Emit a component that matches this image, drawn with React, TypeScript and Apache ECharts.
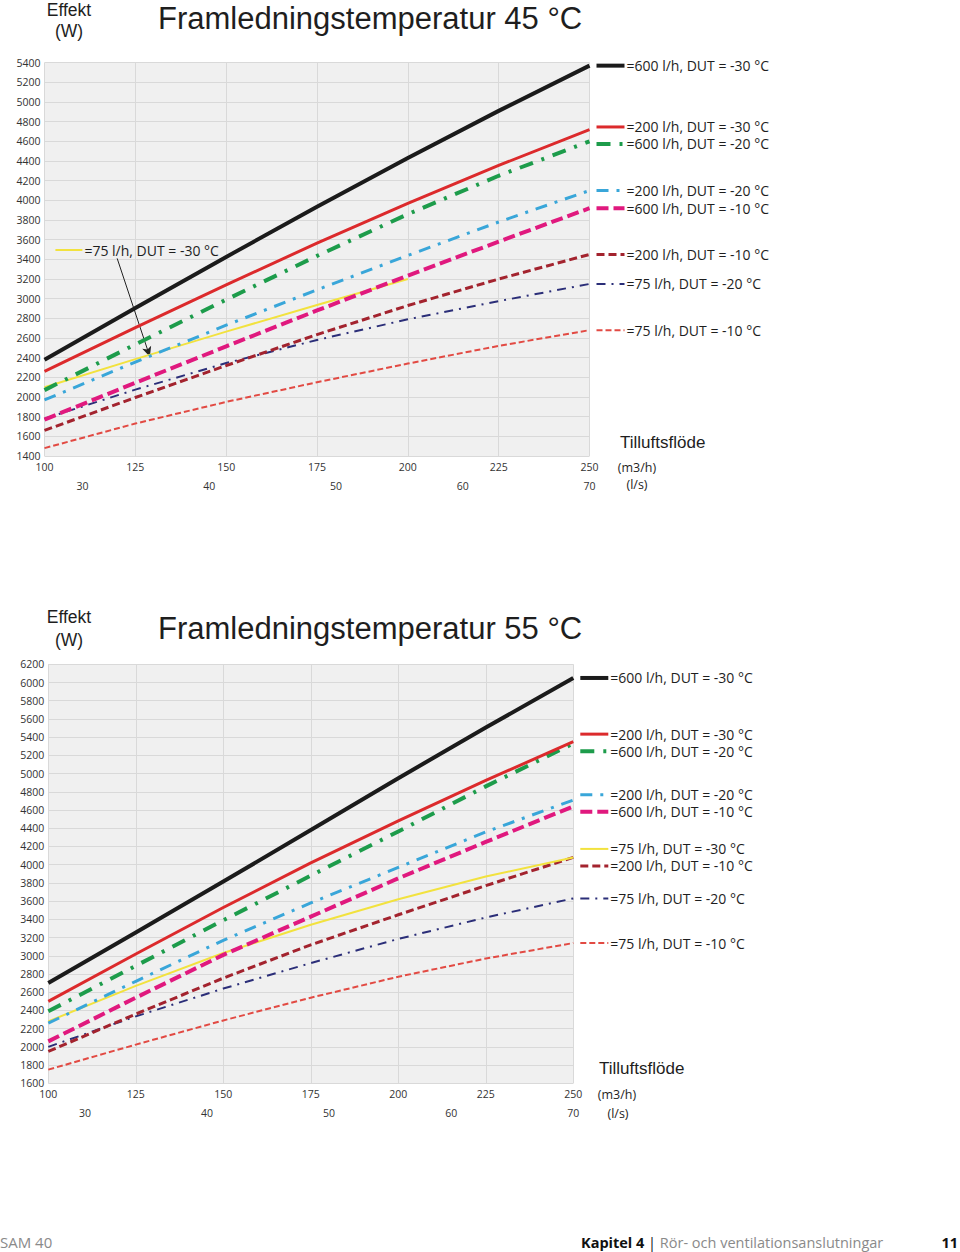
import React, { useEffect, useRef } from "react";
import * as echarts from "echarts";

// ---------------- data ----------------
const FLOW_M3H = [100, 125, 150, 175, 200, 225, 250];
const FLOW_LS_LABELS = [30, 40, 50, 60, 70];
const LS_AXIS_MIN = 27;
const LS_AXIS_MAX = 70;

// Framledningstemperatur 45 °C (W)
const T45_600_M30 = [2380, 2905, 3425, 3935, 4430, 4910, 5370];
const T45_200_M30 = [2260, 2705, 3140, 3565, 3970, 4355, 4720];
const T45_600_M20 = [2070, 2535, 2990, 3435, 3860, 4250, 4600];
const T45_200_M20 = [1970, 2355, 2730, 3090, 3440, 3780, 4100];
const T45_600_M10 = [1770, 2145, 2515, 2880, 3235, 3580, 3920];
const T45_75_M30 = [2100, 2385, 2665, 2935, 3200];
const T45_200_M10 = [1660, 1995, 2320, 2635, 2930, 3200, 3450];
const T45_75_M20 = [1780, 2075, 2345, 2580, 2790, 2975, 3150];
const T45_75_M10 = [1480, 1730, 1950, 2150, 2340, 2520, 2680];

// Framledningstemperatur 55 °C (W)
const T55_600_M30 = [2700, 3255, 3815, 4380, 4950, 5505, 6050];
const T55_200_M30 = [2500, 3020, 3530, 4020, 4480, 4925, 5350];
const T55_600_M20 = [2390, 2890, 3390, 3880, 4365, 4860, 5330];
const T55_200_M20 = [2260, 2720, 3170, 3580, 3970, 4360, 4710];
const T55_600_M10 = [2060, 2540, 3010, 3430, 3850, 4250, 4640];
const T55_75_M30 = [2280, 2670, 3030, 3340, 3620, 3870, 4080];
const T55_200_M10 = [1950, 2360, 2755, 3120, 3450, 3770, 4080];
const T55_75_M20 = [2000, 2335, 2640, 2920, 3185, 3420, 3630];
const T55_75_M10 = [1750, 2025, 2290, 2540, 2770, 2970, 3140];

// annotation of the 75 l/h, -30 °C curve in the 45 °C chart (data coords)
const NOTE45_LABEL_AT = [103, 3495];
const NOTE45_ARROW_FROM = [120, 3410];
const NOTE45_ARROW_TO = [129, 2410];

const LBL = {
  k600m30: "=600 l/h, DUT = -30 °C",
  r200m30: "=200 l/h, DUT = -30 °C",
  g600m20: "=600 l/h, DUT = -20 °C",
  c200m20: "=200 l/h, DUT = -20 °C",
  m600m10: "=600 l/h, DUT = -10 °C",
  y75m30: "=75 l/h, DUT = -30 °C",
  d200m10: "=200 l/h, DUT = -10 °C",
  n75m20: "=75 l/h, DUT = -20 °C",
  l75m10: "=75 l/h, DUT = -10 °C",
};

// ---------------- styles ----------------
const STYLE: Record<string, { color: string; width: number; dash: number[] | null; z: number }> = {
  k600m30: { color: "#1b1b1b", width: 4, dash: null, z: 19 },
  r200m30: { color: "#dc2a2c", width: 3, dash: null, z: 18 },
  g600m20: { color: "#1d9c4b", width: 4, dash: [14, 9, 3, 9], z: 17 },
  c200m20: { color: "#39a6d9", width: 3, dash: [12, 8, 3, 8], z: 16 },
  m600m10: { color: "#e0197e", width: 4, dash: [12, 5], z: 15 },
  y75m30: { color: "#f2e23e", width: 2, dash: null, z: 14 },
  d200m10: { color: "#a3232e", width: 3, dash: [8, 4], z: 13 },
  n75m20: { color: "#2b2e78", width: 2, dash: [9, 6, 2, 6], z: 12 },
  l75m10: { color: "#e24a43", width: 2, dash: [6, 3], z: 11 },
};

type Entry = { key: string; values: number[]; legend: boolean };

const CHART45: Entry[] = [
  { key: "k600m30", values: T45_600_M30, legend: true },
  { key: "r200m30", values: T45_200_M30, legend: true },
  { key: "g600m20", values: T45_600_M20, legend: true },
  { key: "c200m20", values: T45_200_M20, legend: true },
  { key: "m600m10", values: T45_600_M10, legend: true },
  { key: "y75m30", values: T45_75_M30, legend: false },
  { key: "d200m10", values: T45_200_M10, legend: true },
  { key: "n75m20", values: T45_75_M20, legend: true },
  { key: "l75m10", values: T45_75_M10, legend: true },
];

const CHART55: Entry[] = [
  { key: "k600m30", values: T55_600_M30, legend: true },
  { key: "r200m30", values: T55_200_M30, legend: true },
  { key: "g600m20", values: T55_600_M20, legend: true },
  { key: "c200m20", values: T55_200_M20, legend: true },
  { key: "m600m10", values: T55_600_M10, legend: true },
  { key: "y75m30", values: T55_75_M30, legend: true },
  { key: "d200m10", values: T55_200_M10, legend: true },
  { key: "n75m20", values: T55_75_M20, legend: true },
  { key: "l75m10", values: T55_75_M10, legend: true },
];

const SANS = '"Open Sans", "Noto Sans", sans-serif';
const ARIAL = '"Liberation Sans", Arial, sans-serif';
const TXT = "#1e1e1e";

function makeSeries(entries: Entry[], xAxisIndex: number, yAxisIndex: number) {
  return entries.map((e) => {
    const s = STYLE[e.key];
    return {
      type: "line",
      name: LBL[e.key as keyof typeof LBL],
      xAxisIndex,
      yAxisIndex,
      data: e.values.map((v, i) => [FLOW_M3H[i], v]),
      showSymbol: false,
      symbol: "none",
      smooth: false,
      silent: true,
      z: s.z,
      lineStyle: { color: s.color, width: s.width, type: s.dash ?? "solid", cap: "butt", join: "round" },
    } as any;
  });
}

const plain = (v: number) => String(Math.round(v));

function xAxes(gridIndex: number) {
  return [
    {
      gridIndex,
      type: "value",
      min: 100,
      max: 250,
      interval: 25,
      axisLine: { show: false },
      axisTick: { show: false },
      axisLabel: { margin: 5, fontSize: 10.5, fontFamily: SANS, color: "#333", formatter: plain },
      splitLine: { show: true, lineStyle: { color: "#d9d9d9", width: 1 } },
    },
    {
      gridIndex,
      type: "value",
      position: "bottom",
      offset: 19,
      min: LS_AXIS_MIN,
      max: LS_AXIS_MAX,
      axisLine: { show: false },
      axisTick: { show: false },
      splitLine: { show: false },
      axisLabel: {
        customValues: FLOW_LS_LABELS,
        margin: 5,
        fontSize: 10.5,
        fontFamily: SANS,
        color: "#333",
        formatter: plain,
      },
    },
  ];
}

function yAxis(gridIndex: number, min: number, max: number) {
  return {
    gridIndex,
    type: "value",
    min,
    max,
    interval: 200,
    axisLine: { show: false },
    axisTick: { show: false },
    axisLabel: { margin: 4, fontSize: 10.5, fontFamily: SANS, color: "#333", formatter: plain },
    splitLine: { show: true, lineStyle: { color: "#d9d9d9", width: 1 } },
  };
}

function legendGraphics(chart: any, entries: Entry[], seriesOffset: number) {
  const items = entries
    .map((e, order) => ({ e, order, seriesIndex: seriesOffset + order }))
    .filter((o) => o.e.legend)
    .map((o) => {
      const n = o.e.values.length;
      const p = chart.convertToPixel({ seriesIndex: o.seriesIndex }, [FLOW_M3H[n - 1], o.e.values[n - 1]]);
      const r = chart.convertToPixel({ seriesIndex: o.seriesIndex }, [FLOW_M3H[FLOW_M3H.length - 1], o.e.values[n - 1]]);
      return { ...o, x: r[0], y: p[1] };
    });
  items.sort((a, b) => a.y - b.y || a.order - b.order);
  const GAP = 17;
  for (let it = 0; it < 200; it++) {
    let moved = false;
    for (let i = 1; i < items.length; i++) {
      const d = items[i].y - items[i - 1].y;
      if (d < GAP - 0.01) {
        const s = (GAP - d) / 2;
        items[i - 1].y -= s;
        items[i].y += s;
        moved = true;
      }
    }
    if (!moved) break;
  }
  const out: any[] = [];
  items.forEach((it) => {
    const s = STYLE[it.e.key];
    out.push({
      type: "line",
      silent: true,
      shape: { x1: it.x + 7, y1: it.y, x2: it.x + 35, y2: it.y },
      style: { stroke: s.color, lineWidth: s.width, lineDash: s.dash ?? null },
    });
    out.push({
      type: "text",
      silent: true,
      x: it.x + 37,
      y: it.y,
      style: {
        text: LBL[it.e.key as keyof typeof LBL],
        font: `14px ${SANS}`,
        fill: TXT,
        textAlign: "left",
        textVerticalAlign: "middle",
      },
    });
  });
  return out;
}

function txt(x: number, y: number, text: string, font: string, align = "left", fill = TXT) {
  return {
    type: "text",
    silent: true,
    x,
    y,
    style: { text, font, fill, textAlign: align, textVerticalAlign: "middle" },
  };
}

export default function App() {
  const ref = useRef<HTMLDivElement>(null);
  useEffect(() => {
    document.body.style.margin = "0";
    const chart = echarts.init(ref.current!, null, { renderer: "svg" });
    const series45 = makeSeries(CHART45, 0, 0);
    const yellow45 = series45[5];
    yellow45.markLine = {
      silent: true,
      symbol: ["none", "arrow"],
      symbolSize: [7, 10],
      label: { show: false },
      lineStyle: { color: "#222", width: 1, type: "solid" },
      data: [[{ coord: NOTE45_ARROW_FROM }, { coord: NOTE45_ARROW_TO }]],
    };
    const series55 = makeSeries(CHART55, 2, 1);
    const option: any = {
      animation: false,
      backgroundColor: "#ffffff",
      grid: [
        { left: 44.5, top: 62.7, width: 545, height: 393.3, show: true, backgroundColor: "#f0f0f0", borderWidth: 0 },
        { left: 48.3, top: 664.3, width: 525, height: 419, show: true, backgroundColor: "#f0f0f0", borderWidth: 0 },
      ],
      xAxis: [...xAxes(0), ...xAxes(1)],
      yAxis: [yAxis(0, 1400, 5400), yAxis(1, 1600, 6200)],
      series: [...series45, ...series55],
    };
    chart.setOption(option);

    const g: any[] = [];
    // header texts
    g.push(txt(69, 10, "Effekt", `17.5px ${ARIAL}`, "center"));
    g.push(txt(69, 31, "(W)", `17.5px ${ARIAL}`, "center"));
    g.push(txt(158, 18, "Framledningstemperatur 45 °C", `31px ${ARIAL}`));
    g.push(txt(69, 617, "Effekt", `17.5px ${ARIAL}`, "center"));
    g.push(txt(69, 640, "(W)", `17.5px ${ARIAL}`, "center"));
    g.push(txt(158, 628, "Framledningstemperatur 55 °C", `31px ${ARIAL}`));
    // axis titles
    g.push(txt(620, 442, "Tilluftsflöde", `17px ${ARIAL}`));
    g.push(txt(637, 467, "(m3/h)", `12.5px ${SANS}`, "center"));
    g.push(txt(637, 484, "(l/s)", `12.5px ${SANS}`, "center"));
    g.push(txt(599, 1068, "Tilluftsflöde", `17px ${ARIAL}`));
    g.push(txt(617, 1094, "(m3/h)", `12.5px ${SANS}`, "center"));
    g.push(txt(618, 1113, "(l/s)", `12.5px ${SANS}`, "center"));
    // legends
    g.push(...legendGraphics(chart, CHART45, 0));
    g.push(...legendGraphics(chart, CHART55, series45.length));
    // inline note for yellow curve (45 °C)
    const np = chart.convertToPixel({ seriesIndex: 5 }, NOTE45_LABEL_AT);
    const ys = STYLE.y75m30;
    g.push({
      type: "line",
      silent: true,
      shape: { x1: np[0], y1: np[1], x2: np[0] + 27, y2: np[1] },
      style: { stroke: ys.color, lineWidth: ys.width },
    });
    g.push(txt(np[0] + 29, np[1], LBL.y75m30, `14px ${SANS}`));
    // footer
    g.push(txt(0, 1242, "SAM 40", `15px ${SANS}`, "left", "#8a8a8a"));
    g.push({
      type: "text",
      silent: true,
      x: 581,
      y: 1242,
      style: {
        text: "{b|Kapitel 4} {s||} {g|Rör- och ventilationsanslutningar}",
        font: `14.5px ${SANS}`,
        textVerticalAlign: "middle",
        rich: {
          b: { fontFamily: SANS, fontSize: 14.5, fontWeight: "bold", fill: "#111", color: "#111" },
          s: { fontFamily: SANS, fontSize: 14.5, fill: "#111", color: "#111" },
          g: { fontFamily: SANS, fontSize: 14.5, fill: "#8a8a8a", color: "#8a8a8a" },
        },
      },
    });
    g.push(txt(958, 1242, "11", `bold 14.5px ${SANS}`, "right", "#111"));

    chart.setOption({ graphic: g });
    return () => chart.dispose();
  }, []);
  return <div ref={ref} style={{ width: 960, height: 1252 }} />;
}
